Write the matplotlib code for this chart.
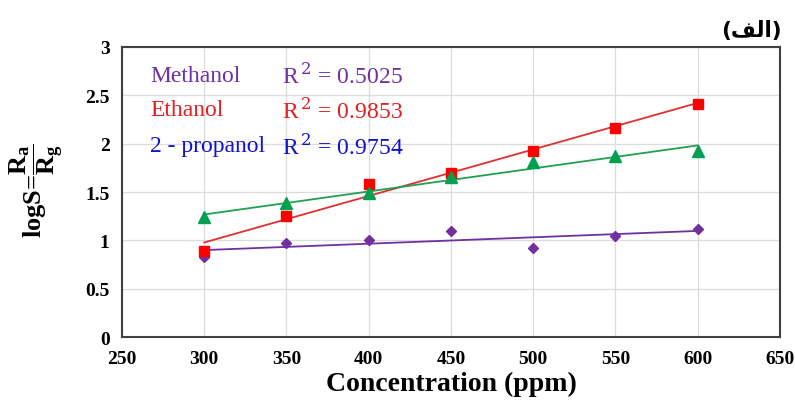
#!/usr/bin/env python

""" sensor response vs. concentration for three alcohols """

import numpy as np
import matplotlib.pyplot as plt

# data
conc = [300, 350, 400, 450, 500, 550, 600]
methanol = [0.83, 0.975, 1.006, 1.093, 0.924, 1.044, 1.12]
ethanol = [0.886, 1.248, 1.58, 1.696, 1.923, 2.158, 2.41]
propanol = [1.244, 1.386, 1.486, 1.651, 1.813, 1.875, 1.92]

names = ['Methanol', 'Ethanol', '2 - propanol']
r2_text = ['0.5025', '0.9853', '0.9754']
text_colors = ['#7030A0', '#E02020', '#1010D0']

x_ticks = [250, 300, 350, 400, 450, 500, 550, 600, 650]
y_ticks = [0, 0.5, 1, 1.5, 2, 2.5, 3]


def trend(x, y):
    # linear trendline like the spreadsheet one
    p = np.polyfit(x, y, 1)
    return np.polyval(p, np.array(x))


def main():
    plt.rcParams['mathtext.fontset'] = 'custom'
    plt.rcParams['mathtext.rm'] = 'Liberation Serif:bold'
    plt.rcParams['mathtext.it'] = 'Liberation Serif:bold'
    plt.rcParams['mathtext.bf'] = 'Liberation Serif:bold'

    fig = plt.figure(figsize=(7.95, 4.02), dpi=100)
    ax = fig.add_axes([0.1535, 0.159, 0.8275, 0.7216])

    # series: markers + fitted lines
    ax.plot(conc, trend(conc, methanol), color='#7030A0', lw=1.3, zorder=2)
    ax.plot(conc, trend(conc, ethanol), color='#E03030', lw=1.3, zorder=2)
    ax.plot(conc, trend(conc, propanol), color='#20A050', lw=1.3, zorder=2)
    ax.plot(conc, methanol, ls='none', marker='D', ms=5, color='#7030A0', zorder=3)
    ax.plot(conc, ethanol, ls='none', marker='s', ms=7.5, color='#FF0000', zorder=3)
    ax.plot(conc, propanol, ls='none', marker='^', ms=8, color='#00A050', zorder=3)

    ax.set_xlim(250, 650)
    ax.set_ylim(0, 3)
    ax.set_xticks(x_ticks)
    ax.set_yticks(y_ticks)
    ax.set_yticklabels(['0', '0.5', '1', '1.5', '2', '2.5', '3'])
    ax.grid(True, color='#DCDCDC', lw=0.9)
    ax.set_axisbelow(True)
    ax.tick_params(length=0, pad=9)
    for lab in ax.get_xticklabels() + ax.get_yticklabels():
        lab.set_fontfamily('Liberation Serif')
        lab.set_fontweight('bold')
        lab.set_fontsize(14)
    for sp in ax.spines.values():
        sp.set_color('#404040')
        sp.set_linewidth(1.5)

    # R^2 annotations
    rows = [0.903, 0.783, 0.659]
    for i in range(3):
        ax.text(0.043, rows[i], names[i], transform=ax.transAxes, color=text_colors[i],
                fontfamily='Liberation Serif', fontsize=17, va='center')
        ax.text(0.243, rows[i], r'R$^{\,2}$ = ' + r2_text[i], transform=ax.transAxes,
                color=text_colors[i], fontfamily='Liberation Serif', fontsize=17,
                va='center', math_fontfamily='dejavuserif')

    ax.set_xlabel('Concentration (ppm)', fontfamily='Liberation Serif',
                  fontweight='bold', fontsize=20, labelpad=3)
    fig.text(0.045, 0.525, r'logS=$\dfrac{\mathrm{R_a}}{\mathrm{R_g}}$',
             rotation=90, ha='center', va='center', fontfamily='Liberation Serif',
             fontweight='bold', fontsize=19)

    # panel label (alef) in Arabic, visual order with presentation forms
    fig.text(0.983, 0.922, '(\ufed2\ufedf\ufe8d)', ha='right', va='center',
             fontfamily='DejaVu Sans', fontweight='bold', fontsize=15.5)

    plt.savefig('out.png', dpi=100)


if __name__ == "__main__":
    main()
